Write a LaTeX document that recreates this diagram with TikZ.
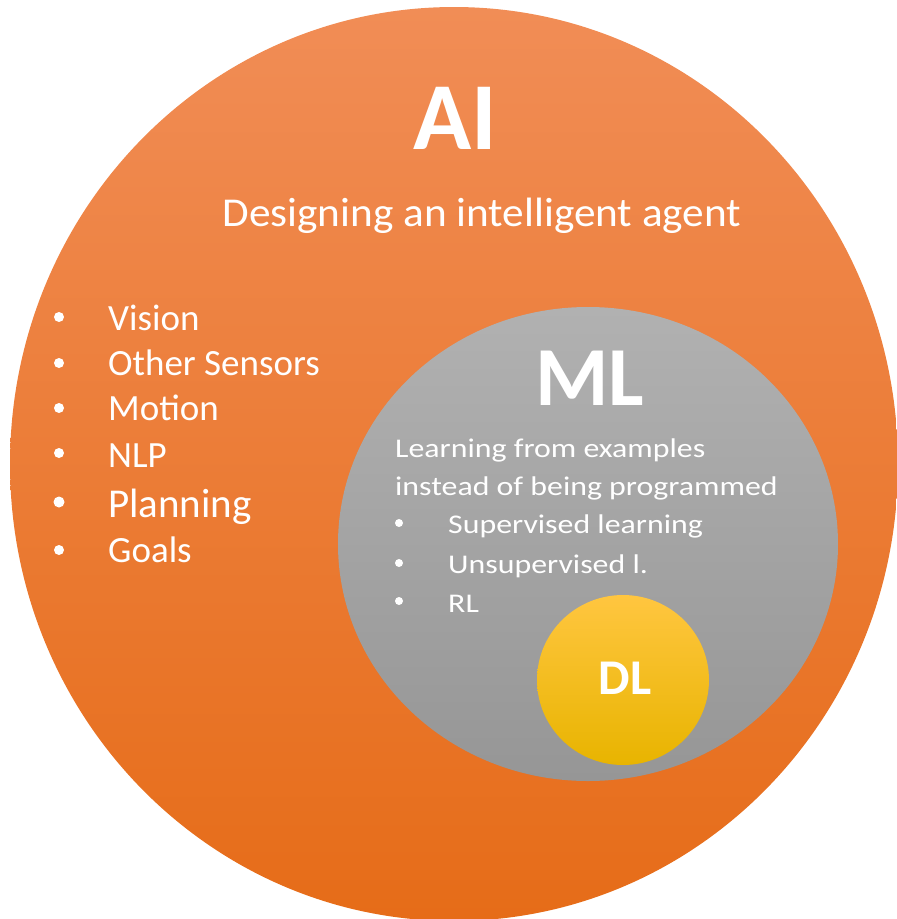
\documentclass[tikz,border=0pt]{standalone}
\usepackage{fontspec}
\setmainfont{Carlito}
\usepackage{tikz}
\usetikzlibrary{shapes.geometric}

\definecolor{aitop}{RGB}{241,141,86}
\definecolor{aimid}{RGB}{244,127,48}
\definecolor{aibot}{RGB}{230,108,24}
\definecolor{mltop}{RGB}{177,177,177}
\definecolor{mlbot}{RGB}{150,150,150}
\definecolor{dltop}{RGB}{255,198,64}
\definecolor{dlmid}{RGB}{255,192,0}
\definecolor{dlbot}{RGB}{232,180,0}

\tikzset{
	disc/.style={ellipse, inner sep=0pt},
	txt/.style={text=white, inner sep=0pt, anchor=base west, font=\fontsize{#1}{#1}\selectfont},
	wide/.style={text=white, inner sep=0pt, anchor=base west, font=\fontsize{#1}{#1}\selectfont\addfontfeature{FakeStretch=1.18}},
	head/.style={text=white, inner sep=0pt, anchor=base, font=\bfseries\fontsize{#1}{#1}\selectfont},
	dot/.style={circle, fill=white, inner sep=0pt, minimum size=#1}
}

\begin{document}
\begin{tikzpicture}[x=1pt,y=-1pt]
		\useasboundingbox (0,0) rectangle (897,919);
		
		% the three sets
		\node[disc, minimum width=888pt, minimum height=914pt, top color=aitop, middle color=aimid, bottom color=aibot] (ai) at (454,464) {};
		\node[disc, minimum width=500pt, minimum height=474pt, top color=mltop, bottom color=mlbot] (ml) at (588,544) {};
		\node[disc, minimum width=172pt, minimum height=170pt, top color=dltop, middle color=dlmid, bottom color=dlbot] (dl) at (623,680) {};
		
		% AI
		\node[head=96] (aititle) at (455,149) {AI};
		\node[text=white, inner sep=0pt, anchor=base, font=\fontsize{41}{41}\selectfont\addfontfeature{FakeStretch=1.055}] (aisub) at (482,226) {Designing an intelligent agent};
		
		\node[dot=10pt] (b1) at (59,317) {};
		\node[dot=10pt] (b2) at (59,363) {};
		\node[dot=10pt] (b3) at (59,408) {};
		\node[dot=10pt] (b4) at (59,453) {};
		\node[dot=11pt] (b5) at (59,502) {};
		\node[dot=10pt] (b6) at (59,550) {};
		
		\node[txt=37] (vision) at (108,330) {Vision};
		\node[txt=37] (sensors) at (108,375) {Other Sensors};
		\node[txt=37] (motion) at (108,420) {Motion};
		\node[txt=37] (nlp) at (108,467) {NLP};
		\node[txt=41] (planning) at (108,517) {Planning};
		\node[txt=37] (goals) at (108,562) {Goals};
		
		% ML
		\node[head=84] (mltitle) at (590,405) {ML};
		\node[wide=27] (mlsub1) at (395,457) {Learning from examples};
		\node[wide=27] (mlsub2) at (395,495) {instead of being programmed};
		
		\node[dot=8pt] (c1) at (399,523) {};
		\node[dot=8pt] (c2) at (399,563) {};
		\node[dot=8pt] (c3) at (399,601) {};
		
		\node[wide=27] (sup) at (448,533) {Supervised learning};
		\node[wide=27] (unsup) at (448,573) {Unsupervised l.};
		\node[wide=27] (rl) at (448,612) {RL};
		
		% DL
		\node[head=50] (dltitle) at (625,694) {DL};
	\end{tikzpicture}
\end{document}
